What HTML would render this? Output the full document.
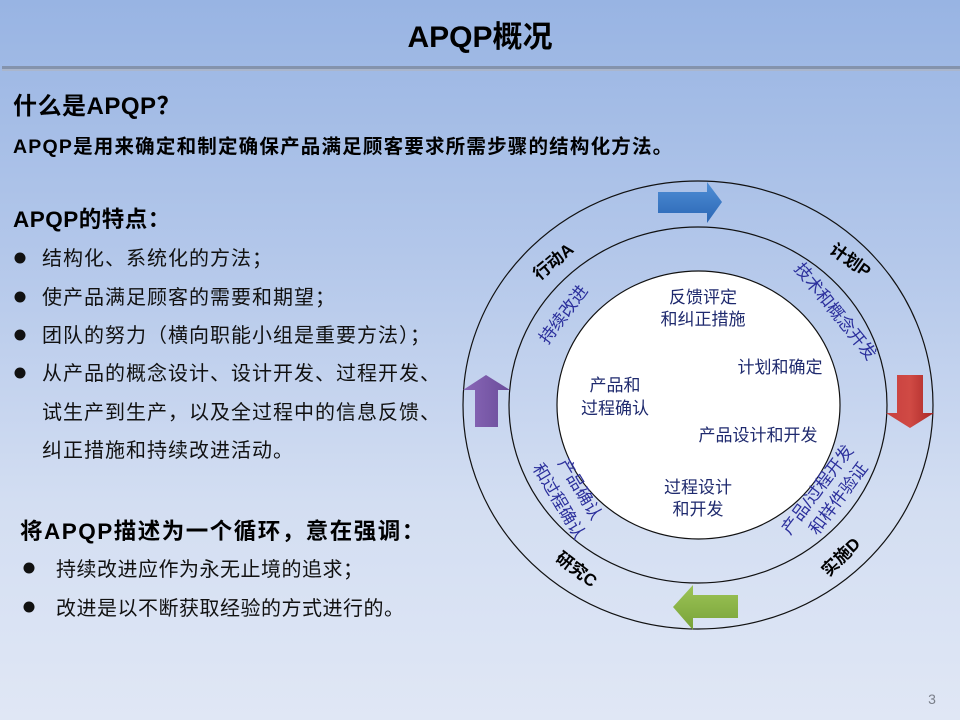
<!DOCTYPE html>
<html><head><meta charset="utf-8"><style>
html,body{margin:0;padding:0;}
body{width:960px;height:720px;overflow:hidden;background:linear-gradient(180deg,#98b4e3 0%,#b3c7ea 35%,#d3def2 70%,#e0e7f5 100%);}
svg{display:block;font-family:"Liberation Sans","Noto Sans CJK SC",sans-serif;}
</style></head><body>
<svg width="960" height="720" viewBox="0 0 960 720" xmlns="http://www.w3.org/2000/svg">
<defs>
<linearGradient id="bl" x1="0" y1="0" x2="0" y2="1"><stop offset="0" stop-color="#4f8fd6"/><stop offset="1" stop-color="#2a66b4"/></linearGradient>
<linearGradient id="rd" x1="0" y1="0" x2="1" y2="0"><stop offset="0" stop-color="#c84040"/><stop offset="0.5" stop-color="#d04a44"/><stop offset="1" stop-color="#a82626"/></linearGradient>
<linearGradient id="gr" x1="0" y1="0" x2="0" y2="1"><stop offset="0" stop-color="#9cc456"/><stop offset="1" stop-color="#78a238"/></linearGradient>
<linearGradient id="pu" x1="0" y1="0" x2="1" y2="0"><stop offset="0" stop-color="#8a68b8"/><stop offset="1" stop-color="#6a4c9a"/></linearGradient>
</defs>
<text x="480" y="47" text-anchor="middle" font-size="30" font-weight="bold" fill="#000">APQP概况</text>
<rect x="2" y="66" width="958" height="3" fill="#8493ac"/>
<rect x="2" y="69" width="958" height="2" fill="#aab6cc"/>
<text x="13" y="114" font-size="24" font-weight="bold" letter-spacing="0.5">什么是APQP？</text>
<text x="13" y="153" font-size="19.5" font-weight="bold" letter-spacing="1.2">APQP是用来确定和制定确保产品满足顾客要求所需步骤的结构化方法。</text>
<text x="13" y="227" font-size="22.5" font-weight="bold" letter-spacing="0.5">APQP的特点：</text>
<g font-size="20" fill="#111" letter-spacing="1">
<circle cx="20" cy="258" r="5.5"/><text x="42" y="265">结构化、系统化的方法；</text>
<circle cx="20" cy="297" r="5.5"/><text x="42" y="304">使产品满足顾客的需要和期望；</text>
<circle cx="20" cy="335" r="5.5"/><text x="42" y="342">团队的努力（横向职能小组是重要方法）；</text>
<circle cx="20" cy="373" r="5.5"/><text x="42" y="380">从产品的概念设计、设计开发、过程开发、</text>
<text x="42" y="419">试生产到生产，以及全过程中的信息反馈、</text>
<text x="42" y="457">纠正措施和持续改进活动。</text>
</g>
<text x="20" y="539" font-size="22.5" font-weight="bold" letter-spacing="1.5">将APQP描述为一个循环，意在强调：</text>
<g font-size="20" fill="#111" letter-spacing="0.5">
<circle cx="29" cy="568" r="5.5"/><text x="56" y="576">持续改进应作为永无止境的追求；</text>
<circle cx="29" cy="607" r="5.5"/><text x="56" y="615">改进是以不断获取经验的方式进行的。</text>
</g>
<ellipse cx="698" cy="405" rx="235" ry="224" fill="none" stroke="#111" stroke-width="1.2"/>
<ellipse cx="698" cy="405" rx="189" ry="178" fill="none" stroke="#111" stroke-width="1.2"/>
<ellipse cx="698.5" cy="405" rx="141.5" ry="134" fill="#fff" stroke="#111" stroke-width="1.2"/>
<polygon points="658,192 707,192 707,182 722,202 707,223 707,213 658,213" fill="url(#bl)"/>
<polygon points="897,375 923,375 923,413 934,413 910,428 886,413 897,413" fill="url(#rd)"/>
<polygon points="738,595 693,595 693,585 673,607 693,630 693,618 738,618" fill="url(#gr)"/>
<polygon points="475,427 475,390 463,390 486,375 510,390 498,390 498,427" fill="url(#pu)"/>
<g font-size="17" font-weight="bold" fill="#000" text-anchor="middle">
<text transform="translate(557,266) rotate(-40)">行动A</text>
<text transform="translate(847,265) rotate(35)">计划P</text>
<text transform="translate(845,561) rotate(-45)">实施D</text>
<text transform="translate(573,574) rotate(37)">研究C</text>
</g>
<g font-size="17" fill="#2b2f9c" text-anchor="middle">
<text transform="translate(568,318) rotate(-53)">持续改进</text>
<text transform="translate(831,315) rotate(51)">技术和概念开发</text>
<text transform="translate(575,492) rotate(59)">产品确认</text>
<text transform="translate(554,504) rotate(59)">和过程确认</text>
<text transform="translate(822,493) rotate(-53)">产品/过程开发</text>
<text transform="translate(843,502) rotate(-53)">和样件验证</text>
</g>
<g font-size="17" fill="#1f2a6e" text-anchor="middle">
<text x="703" y="303">反馈评定</text>
<text x="703" y="325">和纠正措施</text>
<text x="780" y="373">计划和确定</text>
<text x="615" y="391">产品和</text>
<text x="615" y="414">过程确认</text>
<text x="758" y="441">产品设计和开发</text>
<text x="698" y="493">过程设计</text>
<text x="698" y="515">和开发</text>
</g>
<text x="932" y="704" font-size="14" fill="#7a7f8a" text-anchor="middle">3</text>
</svg>
</body></html>
